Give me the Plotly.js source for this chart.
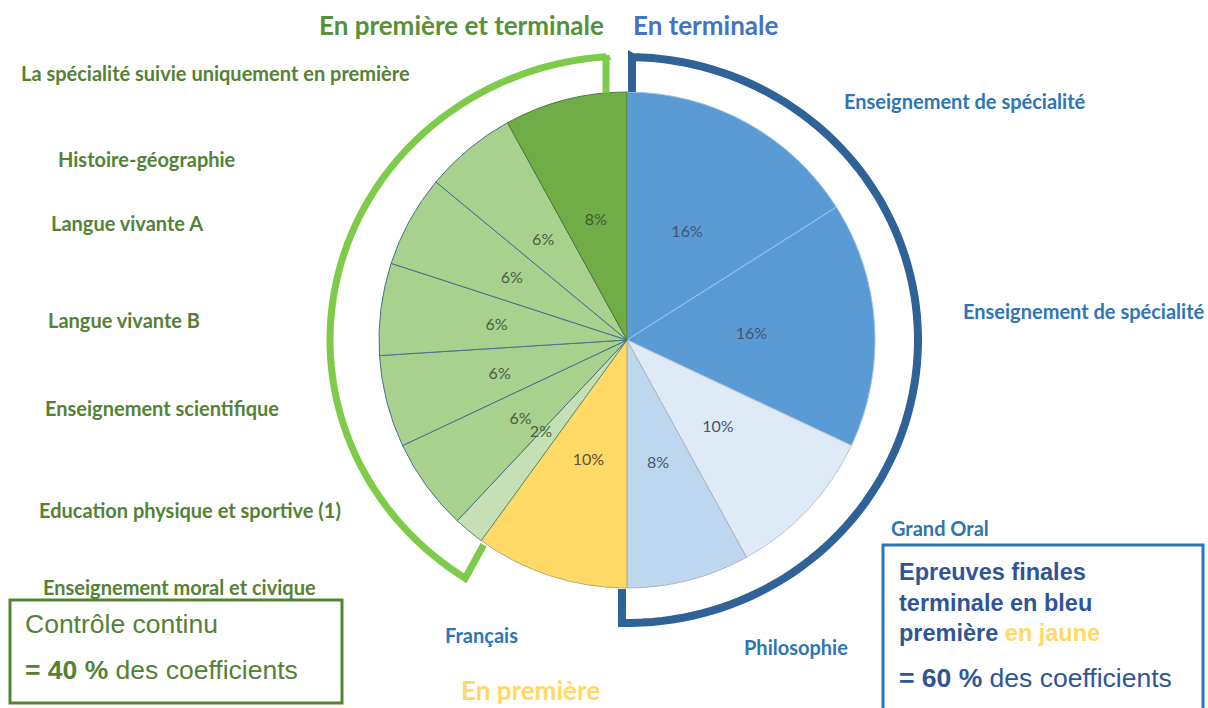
<!DOCTYPE html>
<html><head><meta charset="utf-8">
<script src="https://cdn.plot.ly/plotly-3.0.1.min.js"></script>
<style>html,body{margin:0;padding:0;background:#fff}#chart{width:1208px;height:708px}</style>
</head><body><div id="chart"></div>
<script>
// ---- data ----
const sliceIds = ["Enseignement de spécialité (1)", "Enseignement de spécialité (2)", "Grand Oral", "Philosophie", "Français", "Enseignement moral et civique", "Education physique et sportive (1)", "Enseignement scientifique", "Langue vivante B", "Langue vivante A", "Histoire-géographie", "La spécialité suivie uniquement en première"];
const coefficients = [16, 16, 10, 8, 10, 2, 6, 6, 6, 6, 6, 8];

const greenLabels = ["La spécialité suivie uniquement en première", "Histoire-géographie", "Langue vivante A", "Langue vivante B", "Enseignement scientifique", "Education physique et sportive (1)", "Enseignement moral et civique"];
const blueLabels = ["Enseignement de spécialité", "Enseignement de spécialité", "Grand Oral", "Philosophie", "Français"];
const groupTitles = ["En première et terminale", "En terminale", "En première"];

// ---- styles ----
const sliceColors = ["#5B9BD5", "#5B9BD5", "#DEEBF7", "#BDD7EE", "#FFD966", "#C5E0B4", "#A9D18E", "#A9D18E", "#A9D18E", "#A9D18E", "#A9D18E", "#70AD47"];
const sliceLines = ["#9DC3E6", "#9DC3E6", "#B8C4D0", "#A9B4BF", "#B8A878", "#5E8A6A", "#46718A", "#46718A", "#46718A", "#46718A", "#46718A", "#4F7A34"];
const textColors = ["#3D5573", "#3D5573", "#4A5566", "#4A5566", "#5A5236", "#4A5E3E", "#4A5E3E", "#4A5E3E", "#4A5E3E", "#4A5E3E", "#4A5E3E", "#3F5A2E"];

const W = 1208, H = 708;
const px = x => x / W, py = y => 1 - y / H;
const CX = 627, CY = 340, R = 248, R2 = 156, R3 = 110;
const smallIdx = coefficients.map((v, i) => v < 4 ? i : -1).filter(i => i >= 0);

function arcPts(rx, ry, a0, a1, n) {
  const pts = [];
  for (let i = 0; i <= n; i++) {
    const a = (a0 + (a1 - a0) * i / n) * Math.PI / 180;
    pts.push([CX + rx * Math.sin(a), CY - ry * Math.cos(a)]);
  }
  return pts;
}
function pathOf(pts) {
  return pts.map((p, i) => (i ? 'L' : 'M') + px(p[0]).toFixed(5) + ',' + py(p[1]).toFixed(5)).join(' ');
}
function dom(r) { return {x: [px(CX - r), px(CX + r)], y: [py(CY + r), py(CY - r)]}; }

// green bracket
const gPts = [[606, 93], [606, 56]].concat(arcPts(297, 284, -4, -147, 80));
gPts.push([CX + 250 * Math.sin(-145 * Math.PI / 180), CY - 250 * Math.cos(-145 * Math.PI / 180)]);
// blue bracket
const bPts = [[632, 92], [632, 57]].concat(arcPts(291, 283, 1, 181, 90));
bPts.push([622, 589]);

const common = {type: 'pie', labels: sliceIds, values: coefficients, sort: false, direction: 'clockwise', rotation: 0, showlegend: false};

const pieTrace = Object.assign({}, common, {
  marker: {colors: sliceColors, line: {color: sliceLines, width: 1}},
  textinfo: 'none',
  hoverinfo: 'label+value',
  domain: dom(R)
});
// same data, transparent ring carrying the percentage labels
const labelTrace = Object.assign({}, common, {
  hole: 0.6,
  marker: {colors: sliceIds.map(() => 'rgba(0,0,0,0)'), line: {width: 0}},
  texttemplate: coefficients.map((v, i) => smallIdx.includes(i) ? '' : '%{value}%'),
  textposition: 'inside',
  insidetextorientation: 'horizontal',
  textfont: {family: 'Lato, sans-serif', size: 16, color: textColors},
  hoverinfo: 'skip',
  domain: dom(R2)
});
// tiny slice label drawn full size just outside a smaller transparent pie
const smallTrace = Object.assign({}, common, {
  marker: {colors: sliceIds.map(() => 'rgba(0,0,0,0)'), line: {width: 0}},
  texttemplate: coefficients.map((v, i) => smallIdx.includes(i) ? '%{value}%' : ''),
  textposition: 'outside',
  outsidetextfont: {family: 'Lato, sans-serif', size: 16, color: textColors},
  hoverinfo: 'skip',
  domain: dom(R3)
});

const green = '#548235', blue = '#2E75B6';
const ARIAL = 'Liberation Sans, Arial, sans-serif';
function lab(text, x, y, color, size, family) {
  return {text: text, xref: 'paper', yref: 'paper', x: px(x), y: py(y), xanchor: 'left', yanchor: 'middle', showarrow: false,
    font: {family: family || 'Lato, sans-serif', size: size, color: color}};
}
const annotations = [
  lab('<b>' + groupTitles[0] + '</b>', 317, 25, '#56903A', 26),
  lab('<b>' + groupTitles[1] + '</b>', 631, 25, '#4472C4', 26),
  lab('<b>' + groupTitles[2] + '</b>', 459, 690, '#FFD966', 26),
  lab('<b>' + greenLabels[0] + '</b>', 19, 73, green, 20),
  lab('<b>' + greenLabels[1] + '</b>', 56, 159, green, 20),
  lab('<b>' + greenLabels[2] + '</b>', 49, 223, green, 20),
  lab('<b>' + greenLabels[3] + '</b>', 46, 320, green, 20),
  lab('<b>' + greenLabels[4] + '</b>', 43, 408, green, 20),
  lab('<b>' + greenLabels[5] + '</b>', 37, 510, green, 20),
  lab('<b>' + greenLabels[6] + '</b>', 41, 587, green, 20),
  lab('<b>' + blueLabels[0] + '</b>', 842, 101, blue, 20),
  lab('<b>' + blueLabels[1] + '</b>', 961, 311, blue, 20),
  lab('<b>' + blueLabels[2] + '</b>', 889, 528, blue, 20),
  lab('<b>' + blueLabels[3] + '</b>', 742, 647, blue, 20),
  lab('<b>' + blueLabels[4] + '</b>', 443, 635, blue, 20),
  lab('Contrôle continu', 23, 624, green, 26.5, ARIAL),
  lab('<b>= 40 %</b> des coefficients', 23, 670, green, 26.5, ARIAL),
  lab('<b>Epreuves finales</b>', 897, 572, '#2F5597', 23.5, ARIAL),
  lab('<b>terminale en bleu</b>', 897, 603, '#2F5597', 23.5, ARIAL),
  lab('<b>première <span style="color:#FFD966">en jaune</span></b>', 897, 633, '#2F5597', 23.5, ARIAL),
  lab('<b>= 60 %</b> des coefficients', 897, 678, '#2F5597', 26.5, ARIAL)
];

const shapes = [
  {type: 'path', xref: 'paper', yref: 'paper', path: pathOf(gPts), line: {color: '#7DCB48', width: 7}, layer: 'above'},
  {type: 'path', xref: 'paper', yref: 'paper', path: pathOf(bPts), line: {color: '#2F6296', width: 8}, layer: 'above'},
  {type: 'rect', xref: 'paper', yref: 'paper', x0: px(10), x1: px(342), y0: py(600), y1: py(703), line: {color: '#548235', width: 3}},
  {type: 'rect', xref: 'paper', yref: 'paper', x0: px(883), x1: px(1203), y0: py(545), y1: py(712), line: {color: '#2E75B6', width: 3}}
];

const layout = {
  width: W, height: H,
  margin: {l: 0, r: 0, t: 0, b: 0},
  paper_bgcolor: '#ffffff',
  plot_bgcolor: '#ffffff',
  showlegend: false,
  annotations: annotations,
  shapes: shapes
};
Plotly.newPlot('chart', [pieTrace, labelTrace, smallTrace], layout, {displayModeBar: false, staticPlot: true});
</script></body></html>
